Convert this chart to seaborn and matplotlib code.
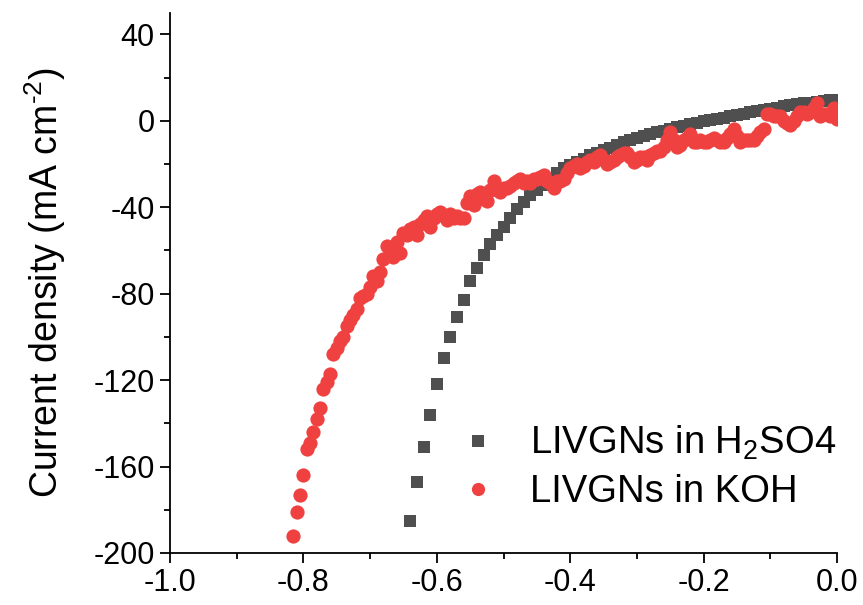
import numpy as np
import pandas as pd
import matplotlib
matplotlib.use("Agg")
import matplotlib.pyplot as plt
from matplotlib.lines import Line2D
import seaborn as sns

# LSV data (potential in V, current density in mA cm-2)
h2so4_v = [-0.64, -0.63, -0.62, -0.61, -0.60, -0.59, -0.58, -0.57, -0.56, -0.55,
           -0.54, -0.53, -0.52, -0.51, -0.50, -0.49, -0.48, -0.47, -0.46, -0.45,
           -0.44, -0.43, -0.42, -0.41, -0.40, -0.39, -0.38, -0.37, -0.36, -0.35,
           -0.34, -0.33, -0.32, -0.31, -0.30, -0.29, -0.28, -0.27, -0.26, -0.25,
           -0.24, -0.23, -0.22, -0.21, -0.20, -0.19, -0.18, -0.17, -0.16, -0.15,
           -0.14, -0.13, -0.12, -0.11, -0.10, -0.09, -0.08, -0.07, -0.06, -0.05,
           -0.04, -0.03, -0.02, -0.01, 0.00]
h2so4_j = [-185, -167, -151, -136, -122, -110, -100, -91, -83, -74,
           -68, -62, -57, -53, -49, -45, -41, -37.5, -34.5, -32,
           -29.5, -27, -24, -22, -20.5, -19, -17.5, -16, -14.7, -13.5,
           -12.4, -11.2, -10, -9, -8, -7, -6.2, -5.4, -4.6, -3.8,
           -3, -2.3, -1.6, -0.9, -0.3, 0.3, 0.9, 1.5, 2.1, 2.7,
           3.3, 3.9, 4.5, 5.1, 5.6, 6.1, 6.6, 7.1, 7.6, 8.0,
           8.4, 8.8, 9.2, 9.5, 9.8]

koh_v = [-0.815, -0.810, -0.805, -0.800, -0.795, -0.790, -0.785, -0.780, -0.775, -0.770,
         -0.765, -0.760, -0.755, -0.750, -0.745, -0.740, -0.735, -0.730, -0.725, -0.720,
         -0.715, -0.710, -0.705, -0.700, -0.695, -0.690, -0.685, -0.680, -0.675, -0.670,
         -0.665, -0.660, -0.655, -0.650, -0.645, -0.640, -0.635, -0.630, -0.625, -0.620,
         -0.615, -0.610, -0.605, -0.600, -0.595, -0.590, -0.585, -0.580, -0.575, -0.570,
         -0.565, -0.560, -0.555, -0.550, -0.545, -0.540, -0.535, -0.530, -0.525, -0.520,
         -0.515, -0.510, -0.505, -0.500, -0.495, -0.490, -0.485, -0.480, -0.475, -0.470,
         -0.465, -0.460, -0.455, -0.450, -0.445, -0.440, -0.435, -0.430, -0.425, -0.420,
         -0.415, -0.410, -0.405, -0.400, -0.395, -0.390, -0.385, -0.380, -0.375, -0.370,
         -0.365, -0.360, -0.355, -0.350, -0.345, -0.340, -0.335, -0.330, -0.325, -0.320,
         -0.315, -0.310, -0.305, -0.300, -0.295, -0.290, -0.285, -0.280, -0.275, -0.270,
         -0.265, -0.260, -0.255, -0.250, -0.245, -0.240, -0.235, -0.230, -0.225, -0.220,
         -0.215, -0.210, -0.205, -0.200, -0.195, -0.190, -0.185, -0.180, -0.175, -0.170,
         -0.165, -0.160, -0.155, -0.150, -0.145, -0.140, -0.135, -0.130, -0.125, -0.120,
         -0.115, -0.110, -0.105, -0.100, -0.095, -0.090, -0.085, -0.080, -0.075, -0.070,
         -0.065, -0.060, -0.055, -0.050, -0.045, -0.040, -0.035, -0.030, -0.025, -0.020,
         -0.015, -0.010, -0.005, 0.000]
koh_j = [-192, -181, -173, -164, -152, -149, -144, -138, -133, -124,
         -121, -117, -108, -105, -102, -100, -95, -92, -90, -87,
         -82, -81, -80, -77, -72, -74, -70, -64, -58, -60,
         -63, -56, -61, -52, -53, -50, -49, -53, -48, -46,
         -44, -49, -45, -43, -42, -44, -46, -43, -45, -44,
         -45, -45, -38, -35, -39, -34, -33, -36, -37, -32,
         -28, -32, -33, -31, -31, -30, -29, -28, -27, -29,
         -28, -29, -27, -27, -26, -25, -28, -29, -31, -28,
         -28, -27, -24, -22, -21, -20, -22, -21, -19, -18,
         -19, -17, -16, -18, -20, -19, -18, -17, -16, -15,
         -15, -17, -19, -18, -17, -17, -18, -16, -15, -14,
         -14, -12, -9, -5, -9, -12, -11, -9, -8, -6,
         -10, -10, -9, -10, -10, -9, -8, -9, -10, -10,
         -8, -6, -4, -7, -10, -9, -9, -9, -9, -7,
         -5, -4, 3, 3, 2, 2, 2, 0, -1, -2,
         0, 2, 4, 4, 3, 4, 6, 8, 2, 3,
         3, 2, 6, 1]

labels = ["LIVGNs in H$_2$SO4", "LIVGNs in KOH"]
colors = ["#4f4f4f", "#f04141"]

df_h = pd.DataFrame({"E": h2so4_v, "j": h2so4_j})
df_k = pd.DataFrame({"E": koh_v, "j": koh_j})

sns.set_theme(style="ticks")
plt.rcParams["font.family"] = ["Liberation Sans", "DejaVu Sans"]
plt.rcParams["mathtext.fontset"] = "custom"
plt.rcParams["mathtext.rm"] = "Liberation Sans"
plt.rcParams["mathtext.it"] = "Liberation Sans"
plt.rcParams["text.color"] = "black"
plt.rcParams["axes.labelcolor"] = "black"

fig = plt.figure(figsize=(8.63, 6.05), dpi=100)
ax = fig.add_axes([0.197, 0.086, 0.773, 0.893])

sns.scatterplot(data=df_h, x="E", y="j", ax=ax, marker="s", s=80,
                color=colors[0], linewidth=0, legend=False)
sns.scatterplot(data=df_k, x="E", y="j", ax=ax, marker="o", s=105,
                color=colors[1], linewidth=0, legend=False)

ax.set_xlim(-1.0, 0.0)
ax.set_ylim(-200, 50)
ax.set_xticks([-1.0, -0.8, -0.6, -0.4, -0.2, 0.0])
ax.set_xticklabels(["-1.0", "-0.8", "-0.6", "-0.4", "-0.2", "0.0"])
ax.set_xticks([-0.9, -0.7, -0.5, -0.3, -0.1], minor=True)
ax.set_yticks([-200, -160, -120, -80, -40, 0, 40])
ax.set_yticklabels(["-200", "-160", "-120", "-80", "-40", "0", "40"])
ax.set_yticks([-180, -140, -100, -60, -20, 20], minor=True)

ax.tick_params(which="major", direction="out", length=7, width=1.3,
               labelsize=22, colors="black", pad=4)
ax.tick_params(which="minor", direction="out", length=4, width=1.3, colors="black")
for side in ["left", "bottom"]:
    ax.spines[side].set_linewidth(1.3)
    ax.spines[side].set_color("black")
sns.despine(ax=ax)

ax.set_xlabel("")
ax.set_ylabel(r"Current density (mA cm$^{\text{-2}}$)", fontsize=27, labelpad=18)

handles = [
    Line2D([], [], ls="", marker="s", markersize=8.5, color=colors[0], markeredgewidth=0),
    Line2D([], [], ls="", marker="o", markersize=9.5, color=colors[1], markeredgewidth=0),
]
ax.legend(handles=handles, labels=labels, loc="lower right",
          bbox_to_anchor=(1.05, 0.015), frameon=False, fontsize=27.5,
          handletextpad=0.85, handlelength=1.0, labelspacing=0.32)

fig.savefig("out.png", dpi=100)
